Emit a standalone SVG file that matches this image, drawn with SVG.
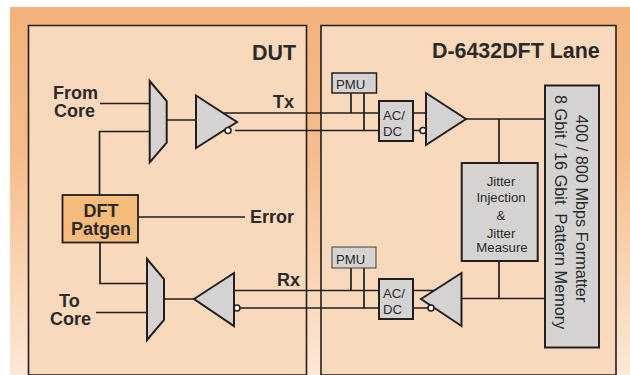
<svg xmlns="http://www.w3.org/2000/svg" width="630" height="375" viewBox="0 0 630 375">
<style>
text{font-family:"Liberation Sans",Arial,sans-serif;fill:#2a2a2a}
.b{font-weight:bold;font-size:18px}
.t{font-weight:bold;font-size:21.4px}
.s{font-size:13.2px}
.j{font-size:13.2px;text-anchor:middle}
.v{font-size:16.3px;white-space:pre}
.g{fill:#d4d3d2;stroke:#231f20;stroke-width:2;stroke-linejoin:miter}
.w{fill:none;stroke:#231f20;stroke-width:1.7}
.c{fill:#fff;stroke:#231f20;stroke-width:1.6}
</style>
<defs>
<linearGradient id="bg" x1="0" y1="0" x2="0" y2="1">
<stop offset="0" stop-color="#f3b27a"/>
<stop offset="0.4" stop-color="#f5bd8c"/>
<stop offset="1" stop-color="#fce8d6"/>
</linearGradient>
</defs>
<rect x="10" y="7" width="620" height="368" fill="url(#bg)"/>
<path d="M28.500 375V25.500H306.500V375Z" fill="#f9d9bb" stroke="#231f20" stroke-width="1.600"/>
<path d="M321 375V25.500H616V375Z" fill="#f9d9bb" stroke="#231f20" stroke-width="1.600"/>
<g id="connectors">
<path class="w" d="M100 103.500H150M150 131.500H99.500V195M166 120H196"/>
<path class="w" d="M222 113H379M235 130.500H379"/>
<path class="w" d="M351 93V113M364 93V130.500"/>
<path class="w" d="M413 113H426M413 130.500H426"/>
<path class="w" d="M466 119H545M499 119V163"/>
<path class="w" d="M499 261V298.500M461 298.500H545"/>
<path class="w" d="M138 217H245M100 242V283.500H147M96 312.500H147M164 299H194"/>
<path class="w" d="M234 290.500H379M240 308H379"/>
<path class="w" d="M351 268V290.500M364 268V308"/>
<path class="w" d="M413 290.500H435M413 308H431"/>
</g>
<g id="mux-tx"><polygon class="g" points="149.700,81 166.700,101 166.700,142.700 149.700,162.300"/></g>
<g id="driver-tx"><polygon class="g" points="196,95.500 237,122 196,148"/><circle class="c" cx="228" cy="130.500" r="3"/></g>
<g id="label-from-core"><text class="b"><tspan x="53" y="99">From</tspan><tspan x="54" y="117">Core</tspan></text></g>
<g id="label-dut"><text class="t" x="252" y="60">DUT</text></g>
<g id="label-lane"><text class="t" x="432" y="58">D-6432DFT Lane</text></g>
<g id="label-tx"><text class="b" x="273" y="108">Tx</text></g>
<g id="label-rx"><text class="b" x="277" y="286">Rx</text></g>
<g id="label-error"><text class="b" x="250" y="223">Error</text></g>
<g id="label-to-core"><text class="b"><tspan x="59" y="307">To</tspan><tspan x="50" y="325">Core</tspan></text></g>
<g id="pmu-tx"><rect x="332" y="73" width="44.500" height="20" fill="#d4d3d2" stroke="#231f20" stroke-width="1.500"/><text class="s" x="336" y="89">PMU</text></g>
<g id="acdc-tx"><rect class="g" x="379" y="101" width="34" height="40"/><text class="s" x="383" y="120">AC/</text><text class="s" x="383" y="136">DC</text></g>
<g id="rx-tx"><circle class="c" cx="423" cy="130.500" r="3"/><polygon class="g" points="426,93 466,119 426,145"/></g>
<g id="format"><rect class="g" x="545" y="85.500" width="54" height="262"/>
<text class="v" transform="translate(576,115) rotate(90)">400 / 800 Mbps Formatter</text>
<text class="v" transform="translate(555,95) rotate(90)">8 Gbit / 16 Gbit  Pattern Memory</text></g>
<g id="jitter"><rect class="g" x="461.700" y="163" width="76" height="98"/>
<text class="j"><tspan x="501" y="186">Jitter</tspan><tspan x="501" y="202">Injection</tspan><tspan x="501" y="220">&amp;</tspan><tspan x="501" y="238">Jitter</tspan><tspan x="502" y="252">Measure</tspan></text></g>
<g id="patgen"><rect x="62.500" y="195" width="75.500" height="47.500" fill="#f4bb7b" stroke="#231f20" stroke-width="1.800"/><text class="b" text-anchor="middle"><tspan x="101" y="217">DFT</tspan><tspan x="101" y="235">Patgen</tspan></text></g>
<g id="mux-rx"><polygon class="g" points="147,259 164,279 164,320 147,340"/></g>
<g id="driver-rx"><polygon class="g" points="194,299 234,273 234,326"/><circle class="c" cx="237" cy="308" r="3"/></g>
<g id="pmu-rx"><rect x="332" y="247" width="44" height="21" fill="#d4d3d2" stroke="#3c3c3c" stroke-width="1"/><text class="s" x="336" y="264">PMU</text></g>
<g id="acdc-rx"><rect class="g" x="379" y="279" width="34" height="40"/><text class="s" x="383" y="298">AC/</text><text class="s" x="383" y="314">DC</text></g>
<g id="rx-rx"><polygon class="g" points="421,299 461.500,273 461.500,326"/><circle class="c" cx="431" cy="308" r="3"/></g>
</svg>
